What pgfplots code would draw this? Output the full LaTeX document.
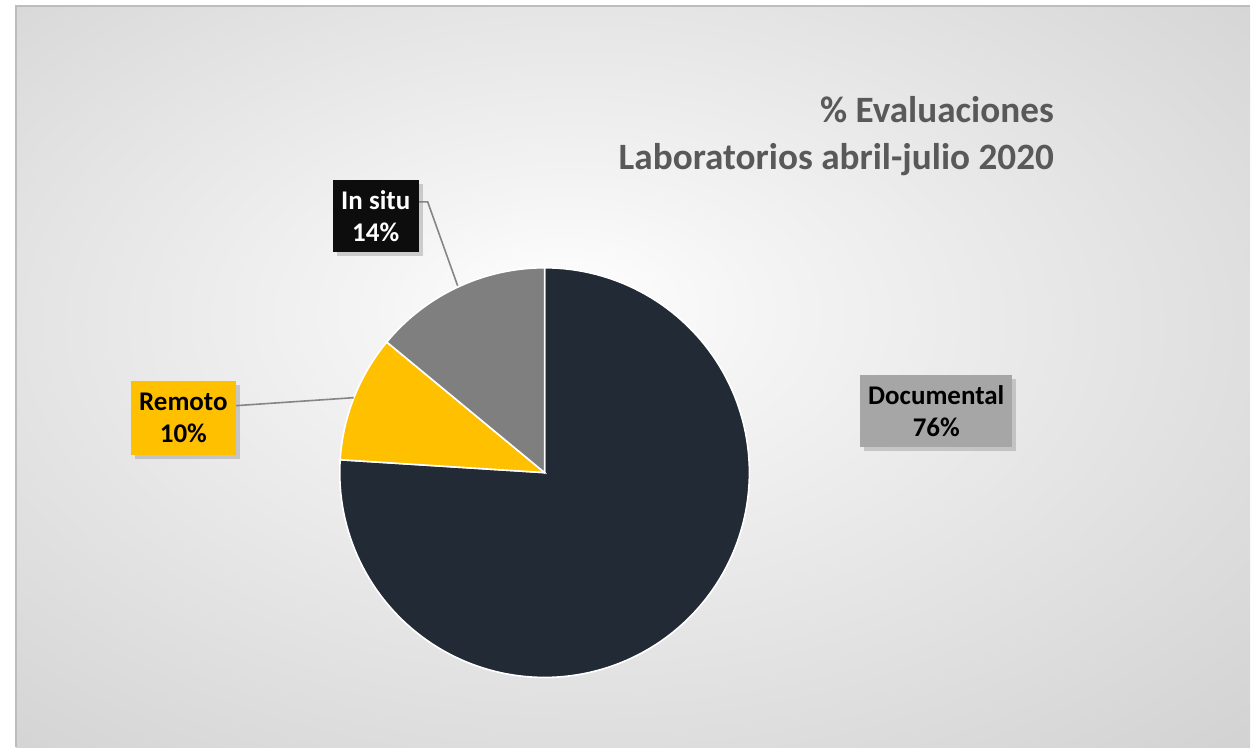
\documentclass[border=0pt]{standalone}
\usepackage{pgfplots}
\pgfplotsset{compat=1.18}
\usepackage{fontspec}
\setmainfont{Carlito}
\usetikzlibrary{shadows}
\definecolor{navy}{HTML}{222A35}
\definecolor{yel}{HTML}{FFC000}
\definecolor{slgray}{HTML}{7F7F7F}
\definecolor{docbox}{HTML}{A6A6A6}
\definecolor{situbox}{HTML}{0D0D0D}
\definecolor{titlec}{HTML}{595959}
\definecolor{leader}{HTML}{858585}
\definecolor{bgA}{HTML}{FFFFFF}
\definecolor{bgB}{HTML}{F4F4F4}
\definecolor{bgC}{HTML}{E2E2E2}
\definecolor{bgD}{HTML}{D0D0D0}
\definecolor{bgE}{HTML}{C4C4C4}
\definecolor{frame}{HTML}{BDBDBD}
\pgfdeclareradialshading{bgshade}{\pgfpoint{-3bp}{5bp}}{color(0bp)=(bgA); color(8bp)=(bgB); color(24bp)=(bgC); color(40bp)=(bgD); color(55bp)=(bgE); color(72bp)=(bgE)}
\begin{document}
\begin{tikzpicture}
% background (1 px = 0.5pt)
\fill[white] (0,0) rectangle (625.5pt,374pt);
\shade[shading=bgshade] (8pt,0pt) rectangle (625.5pt,371pt);
\draw[frame, line width=1pt] (8pt,0pt) -- (8pt,371pt) -- (625.5pt,371pt);
\begin{axis}[
  width=625.5pt, height=374pt, scale only axis,
  xmin=0, xmax=1251, ymin=0, ymax=748,
  hide axis, clip=false,
]
% pie: centre (545,275), radius 205; shares 76 / 10 / 14 % clockwise from top
\addplot[fill=navy, draw=white, line width=0.8pt, domain={90-360*0.76}:90, samples=150, variable=\t]
  ({545+205*cos(\t)},{275+205*sin(\t)}) -- (axis cs:545,275) -- cycle;
\addplot[fill=yel, draw=white, line width=0.8pt, domain={90-360*0.86}:{90-360*0.76}, samples=30, variable=\t]
  ({545+205*cos(\t)},{275+205*sin(\t)}) -- (axis cs:545,275) -- cycle;
\addplot[fill=slgray, draw=white, line width=0.8pt, domain={90-360*1.00}:{90-360*0.86}, samples=40, variable=\t]
  ({545+205*cos(\t)},{275+205*sin(\t)}) -- (axis cs:545,275) -- cycle;
% leader lines
\draw[leader, line width=0.8pt] (axis cs:419,546) -- (axis cs:428,546) -- (axis cs:458,462);
\draw[leader, line width=0.8pt] (axis cs:236,342) -- (axis cs:354,350);
% labels
\node[fill=situbox, text=white, font=\fontsize{13.5pt}{16pt}\selectfont\bfseries, align=center,
  minimum width=43pt, minimum height=36pt, inner sep=0pt,
  drop shadow={opacity=0.35, shadow xshift=2pt, shadow yshift=-2pt}]
  at (axis cs:376,532) {In situ\\14\%};
\node[fill=yel, text=black, font=\fontsize{13.5pt}{16pt}\selectfont\bfseries, align=center,
  minimum width=52.5pt, minimum height=37pt, inner sep=0pt,
  drop shadow={opacity=0.35, shadow xshift=2pt, shadow yshift=-2pt}]
  at (axis cs:183.5,330) {Remoto\\10\%};
\node[fill=docbox, text=black, font=\fontsize{13.5pt}{16pt}\selectfont\bfseries, align=center,
  minimum width=76pt, minimum height=36pt, inner sep=0pt,
  drop shadow={opacity=0.35, shadow xshift=2pt, shadow yshift=-2pt}]
  at (axis cs:937,337) {Documental\\76\%};
% title
\node[anchor=east, text=titlec, font=\fontsize{18.6pt}{23.5pt}\selectfont\bfseries, align=right, inner sep=0pt]
  at (axis cs:1055,612) {\% Evaluaciones\\Laboratorios abril-julio 2020};
\end{axis}
\end{tikzpicture}
\end{document}
